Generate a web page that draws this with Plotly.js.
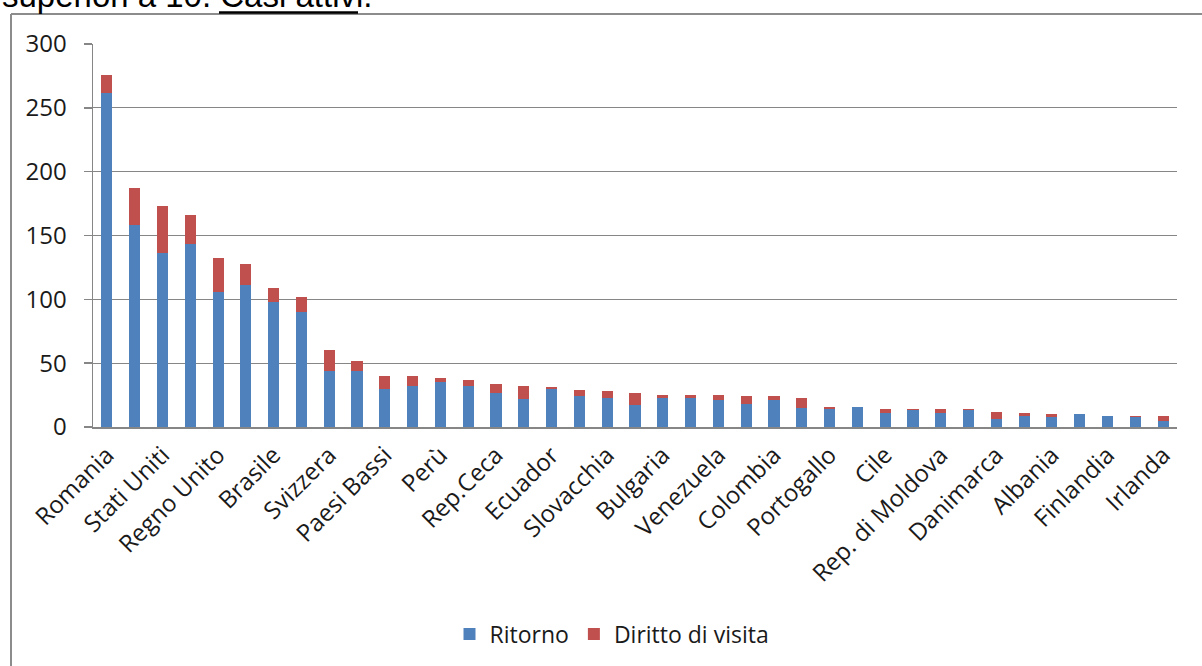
<!DOCTYPE html>
<html>
<head>
<meta charset="utf-8">
<script src="https://cdn.plot.ly/plotly-3.0.1.min.js"></script>
<style>
  html, body { margin: 0; padding: 0; background: #ffffff; }
  #chart { width: 1202px; height: 666px; }
</style>
</head>
<body>
<div id="chart"></div>
<script>
// Categories (only every other one is labelled in the original chart)
const categories = [
  "Romania", "Germania", "Stati Uniti", "Francia", "Regno Unito", "Spagna",
  "Brasile", "Polonia", "Svizzera", "Ucraina", "Paesi Bassi", "Belgio",
  "Perù", "Argentina", "Rep.Ceca", "Russia", "Ecuador", "Messico",
  "Slovacchia", "Grecia", "Bulgaria", "Austria", "Venezuela", "Ungheria",
  "Colombia", "Australia", "Portogallo", "Croazia", "Cile", "Lituania",
  "Rep. di Moldova", "Serbia", "Danimarca", "Canada", "Albania", "Svezia",
  "Finlandia", "Norvegia", "Irlanda"
];
const labelledCategories = [
  "Romania", "Stati Uniti", "Regno Unito", "Brasile", "Svizzera", "Paesi Bassi",
  "Perù", "Rep.Ceca", "Ecuador", "Slovacchia", "Bulgaria", "Venezuela",
  "Colombia", "Portogallo", "Cile", "Rep. di Moldova", "Danimarca", "Albania",
  "Finlandia", "Irlanda"
];
const ritorno = [262, 158, 136, 143, 106, 111, 98, 90, 44, 44, 30, 32, 35, 32, 27, 22, 30, 24, 23, 17,
                 23, 23, 21, 18, 21, 15, 14, 16, 11, 13, 11, 13, 6, 9, 8, 10, 9, 8, 5];
const dirittoDiVisita = [14, 29, 37, 23, 26, 17, 11, 12, 16, 8, 10, 8, 3, 5, 7, 10, 1, 5, 5, 10,
                         2, 2, 4, 6, 3, 8, 2, 0, 3, 1, 3, 1, 6, 2, 2, 0, 0, 1, 4];
const seriesNames = ["Ritorno", "Diritto di visita"];
const yTicks = [0, 50, 100, 150, 200, 250, 300];
const headerText = "superiori a 10. ";
const headerUnderlined = "Casi attivi.";

// Layout helpers (pixel -> paper coordinates)
const W = 1202, H = 666;
const M = { l: 93, r: 25, t: 44, b: 238 };
const PW = W - M.l - M.r, PH = H - M.t - M.b;
const px = x => (x - M.l) / PW;
const py = y => (H - M.b - y) / PH;

const FONT = "Open Sans, Liberation Sans, sans-serif";
const GRID = "#868686";

const boundaries = categories.map((_, i) => i - 0.5).concat([categories.length - 0.5]);

const traces = [
  {
    type: "bar", name: seriesNames[0], x: categories, y: ritorno,
    marker: { color: "#4F81BD", line: { width: 0 } }, hoverinfo: "x+y+name"
  },
  {
    type: "bar", name: seriesNames[1], x: categories, y: dirittoDiVisita,
    marker: { color: "#C0504D", line: { width: 0 } }, hoverinfo: "x+y+name"
  }
];

const layout = {
  width: W, height: H,
  margin: M,
  paper_bgcolor: "#ffffff", plot_bgcolor: "#ffffff",
  barmode: "stack",
  bargap: 0.6,
  showlegend: true,
  font: { family: FONT, color: "#1a1a1a", size: 24 },
  xaxis: {
    type: "category",
    categoryorder: "array", categoryarray: categories,
    range: [-0.5, categories.length - 0.5],
    tickmode: "array", tickvals: labelledCategories, ticktext: labelledCategories,
    tickangle: -45,
    ticks: "outside", ticklen: 3, tickcolor: "rgba(0,0,0,0)",
    tickfont: { family: FONT, size: 24, color: "#1a1a1a" },
    showline: true, linecolor: GRID, linewidth: 1.5,
    showgrid: false, zeroline: false, fixedrange: true
  },
  xaxis2: {
    overlaying: "x", anchor: "y", side: "bottom",
    range: [-0.5, categories.length - 0.5],
    tickmode: "array", tickvals: boundaries,
    ticks: "outside", ticklen: 8, tickcolor: GRID, tickwidth: 1.5,
    showticklabels: false, showgrid: false, zeroline: false, showline: false,
    fixedrange: true
  },
  yaxis: {
    range: [0, 300],
    tickmode: "array", tickvals: yTicks,
    ticks: "outside", ticklen: 8, tickcolor: GRID, tickwidth: 1.5,
    ticklabelstandoff: 12,
    tickfont: { family: FONT, size: 24, color: "#1a1a1a" },
    showline: true, linecolor: GRID, linewidth: 1.5,
    showgrid: true, gridcolor: GRID, gridwidth: 1.3,
    zeroline: false, fixedrange: true
  },
  legend: {
    orientation: "h", x: px(612), xanchor: "center", y: py(634), yanchor: "middle",
    font: { family: FONT, size: 23, color: "#1a1a1a" },
    itemwidth: 30, traceorder: "normal", bgcolor: "rgba(0,0,0,0)"
  },
  annotations: [
    {
      xref: "paper", yref: "paper", x: px(0), y: py(15.5),
      xanchor: "left", yanchor: "bottom", showarrow: false,
      text: headerText + headerUnderlined,
      font: { family: "Liberation Sans, Arial, sans-serif", size: 33, color: "#000000" }
    }
  ],
  shapes: [
    // chart frame (left and top edges visible)
    { type: "line", xref: "paper", yref: "paper", x0: px(11), x1: px(1210), y0: py(14), y1: py(14),
      line: { color: "#8c8c8c", width: 2 } },
    { type: "line", xref: "paper", yref: "paper", x0: px(11), x1: px(11), y0: py(14), y1: py(680),
      line: { color: "#8c8c8c", width: 2 } },
    // underline of "Casi attivi."
    { type: "line", xref: "paper", yref: "paper", x0: px(219), x1: px(358), y0: py(12.5), y1: py(12.5),
      line: { color: "#000000", width: 2.5 } }
  ]
};

Plotly.newPlot("chart", traces, layout, { staticPlot: true, displayModeBar: false });
</script>
</body>
</html>
